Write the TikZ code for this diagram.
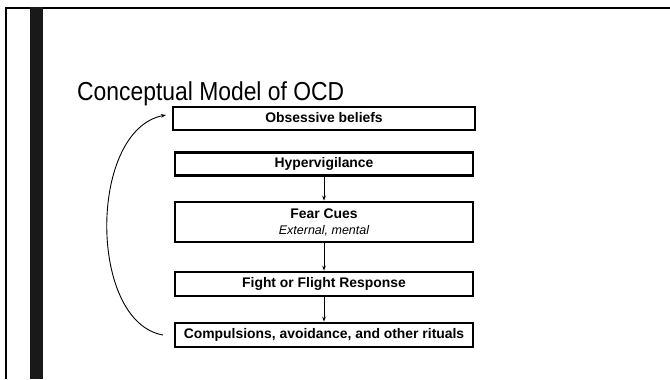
\documentclass[tikz,border=0pt]{standalone}
\usepackage{fontspec}
\setmainfont{Liberation Sans}
\newfontfamily\titlefont[FakeStretch=0.88]{Liberation Sans}
\usetikzlibrary{arrows.meta}
\begin{document}
\begin{tikzpicture}[x=1bp,y=-1bp,
  flowbox/.style={draw=black, line width=2.8bp, fill=white, minimum width=298bp,
    minimum height=23bp, inner sep=0pt, text height=10bp, text depth=3bp,
    font=\fontsize{13.9bp}{16bp}\selectfont\bfseries},
  flowarrow/.style={-{Stealth[length=5bp,width=3.6bp]}, line width=0.9bp}]
\useasboundingbox (0,0) rectangle (670,379);
\fill[white] (0,0) rectangle (670,379);
\draw[line width=2.5bp, black] (5,8) -- (670,8);
\draw[line width=2bp, black] (6,8) -- (6,379);
\fill[black!90] (30,7) rectangle (43,379);
\node[anchor=base west, font=\titlefont\fontsize{26bp}{30bp}\selectfont, inner sep=0pt] (title) at (77,100) {Conceptual Model of OCD};
\node[flowbox, minimum width=302bp, line width=2.2bp] (obs) at (324,118.5) {Obsessive beliefs};
\node[flowbox] (hyp) at (324,164) {Hypervigilance};
\node[flowbox, minimum height=40bp, text height=, text depth=, align=center] (fear) at (324,222)
  {Fear Cues\\{\fontsize{12.5bp}{14bp}\selectfont\mdseries\itshape External, mental}};
\node[flowbox, minimum height=24bp] (fight) at (324,284) {Fight or Flight Response};
\node[flowbox, minimum height=24bp] (comp) at (324,335) {Compulsions, avoidance, and other rituals};
\draw[flowarrow] (hyp) -- (fear);
\draw[flowarrow] (fear) -- (fight);
\draw[flowarrow] (fight) -- (comp);
\coordinate (cstart) at (163,335);
\coordinate (cend) at (166,115);
\draw[flowarrow] (cstart) .. controls (88,322) and (88,130) .. (cend);
\end{tikzpicture}
\end{document}
